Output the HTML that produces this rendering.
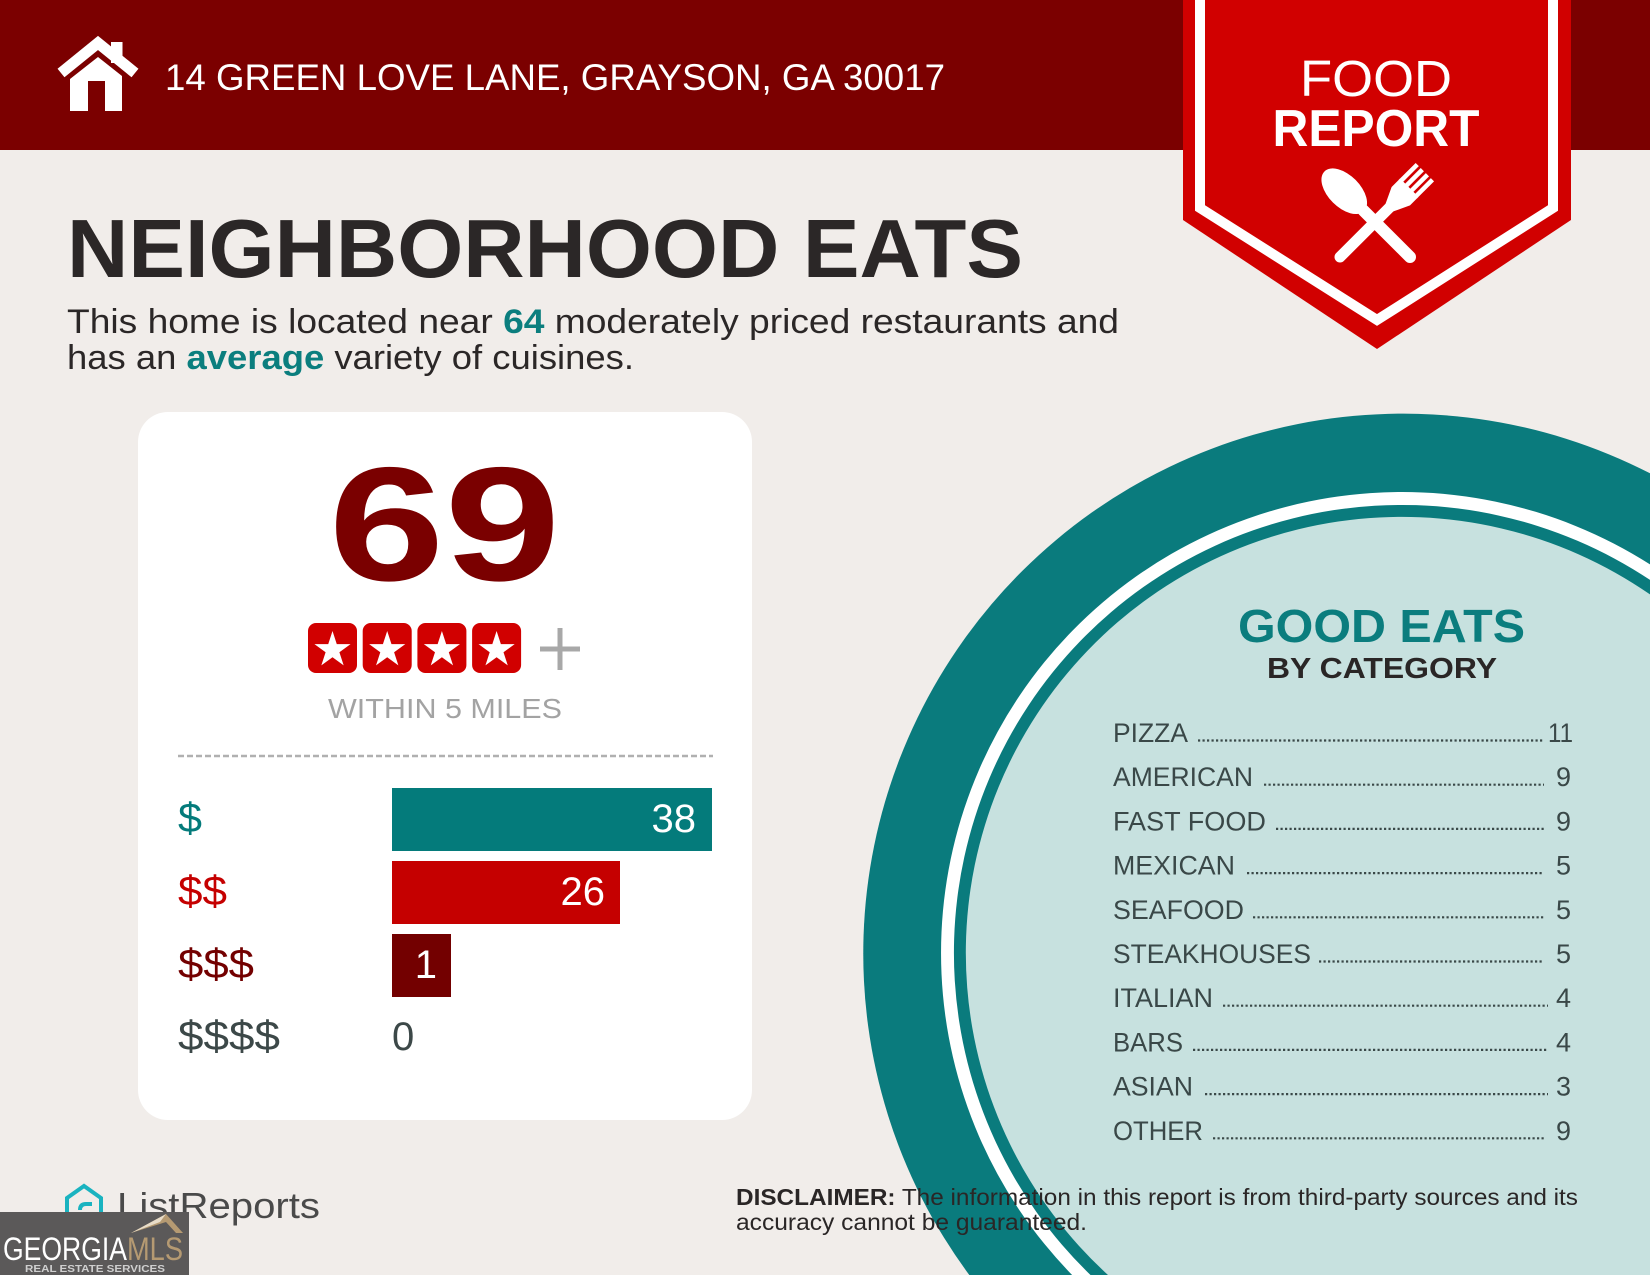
<!DOCTYPE html>
<html>
<head>
<meta charset="utf-8">
<style>
  html,body{margin:0;padding:0;background:#f1edea;width:1650px;height:1275px;overflow:hidden;}
  svg{display:block;}
  text{font-family:"Liberation Sans", Arial, sans-serif;}
</style>
</head>
<body>
<svg width="1650" height="1275" viewBox="0 0 1650 1275" xmlns="http://www.w3.org/2000/svg">
  <defs>
    <g id="star">
      <polygon points="0,-19 4.27,-5.87 18.07,-5.87 6.9,2.24 11.17,15.37 0,7.26 -11.17,15.37 -6.9,2.24 -18.07,-5.87 -4.27,-5.87" fill="#ffffff"/>
    </g>
  </defs>

  <rect x="0" y="0" width="1650" height="1275" fill="#f1edea"/>

  <!-- header band -->
  <rect x="0" y="0" width="1650" height="150" fill="#7b0000"/>

  <!-- house icon -->
  <polyline points="61,73 98,43 135,73" fill="none" stroke="#ffffff" stroke-width="11" stroke-linejoin="miter"/>
  <rect x="111" y="42" width="11.5" height="21" fill="#ffffff"/>
  <path d="M70,111 L70,79 L98,57 L122,76 L122,111 Z M88,111 L88,81 L105,81 L105,111 Z" fill="#ffffff" fill-rule="evenodd"/>

  <text x="165" y="90" font-size="37" fill="#ffffff" textLength="780" lengthAdjust="spacingAndGlyphs">14 GREEN LOVE LANE, GRAYSON, GA 30017</text>

  <!-- food report banner -->
  <polygon points="1183,0 1571,0 1571,220 1377,349 1183,220" fill="#d10000"/>
  <polyline points="1200,0 1200,208 1377,320 1553,208 1553,0" fill="none" stroke="#ffffff" stroke-width="10" stroke-linejoin="miter"/>
  <text x="1376" y="96" font-size="51" fill="#ffffff" text-anchor="middle" textLength="152" lengthAdjust="spacingAndGlyphs">FOOD</text>
  <text x="1376" y="146" font-size="52" font-weight="bold" fill="#ffffff" text-anchor="middle" textLength="207" lengthAdjust="spacingAndGlyphs">REPORT</text>

  <!-- fork -->
  <g transform="translate(1340,257) rotate(45)" fill="#ffffff">
    <line x1="0" y1="0" x2="0" y2="-72" stroke="#ffffff" stroke-width="11" stroke-linecap="round"/>
    <polygon points="-5.5,-70 5.5,-70 13,-86 13,-98 -13,-98 -13,-86"/>
    <rect x="-13" y="-120" width="4.5" height="24"/>
    <rect x="-5.8" y="-120" width="4.5" height="24"/>
    <rect x="1.4" y="-120" width="4.5" height="24"/>
    <rect x="8.5" y="-120" width="4.5" height="24"/>
  </g>
  <!-- spoon -->
  <g transform="translate(1410,257) rotate(-45)" fill="#ffffff">
    <line x1="0" y1="0" x2="0" y2="-66" stroke="#ffffff" stroke-width="12" stroke-linecap="round"/>
    <ellipse cx="0" cy="-93" rx="16" ry="28"/>
  </g>

  <!-- title -->
  <text x="67" y="277" font-size="83" font-weight="bold" fill="#2b2727" textLength="956" lengthAdjust="spacingAndGlyphs">NEIGHBORHOOD EATS</text>

  <!-- paragraph -->
  <text x="67" y="333" font-size="34" fill="#2b2727" textLength="1052" lengthAdjust="spacingAndGlyphs">This home is located near <tspan font-weight="bold" fill="#0b7e7e">64</tspan> moderately priced restaurants and</text>
  <text x="67" y="369" font-size="34" fill="#2b2727" textLength="567" lengthAdjust="spacingAndGlyphs">has an <tspan font-weight="bold" fill="#0b7e7e">average</tspan> variety of cuisines.</text>

  <!-- card -->
  <rect x="138" y="412" width="614" height="708" rx="30" ry="30" fill="#ffffff"/>

  <text x="444.5" y="580" font-size="162" font-weight="bold" fill="#7a0000" text-anchor="middle" textLength="232" lengthAdjust="spacingAndGlyphs">69</text>

  <!-- stars -->
  <rect x="308" y="623" width="49" height="50" rx="8" fill="#d10000"/>
  <rect x="362.7" y="623" width="49" height="50" rx="8" fill="#d10000"/>
  <rect x="417.4" y="623" width="49" height="50" rx="8" fill="#d10000"/>
  <rect x="472.1" y="623" width="49" height="50" rx="8" fill="#d10000"/>
  <use href="#star" transform="translate(332.5,650)"/>
  <use href="#star" transform="translate(387.2,650)"/>
  <use href="#star" transform="translate(441.9,650)"/>
  <use href="#star" transform="translate(496.6,650)"/>
  <line x1="540" y1="649" x2="580" y2="649" stroke="#a8a8a8" stroke-width="5"/>
  <line x1="560" y1="628" x2="560" y2="670" stroke="#a8a8a8" stroke-width="5"/>

  <text x="445" y="718" font-size="28" fill="#a3a3a3" text-anchor="middle" textLength="234" lengthAdjust="spacingAndGlyphs">WITHIN 5 MILES</text>

  <line x1="178" y1="756" x2="713" y2="756" stroke="#b0b0b0" stroke-width="2.5" stroke-dasharray="6 3"/>

  <!-- bars -->
  <rect x="392" y="788" width="320" height="63" fill="#047b7b"/>
  <rect x="392" y="861" width="228" height="63" fill="#c50000"/>
  <rect x="392" y="934" width="59" height="63" fill="#730000"/>

  <text x="696" y="832" font-size="40" fill="#ffffff" text-anchor="end">38</text>
  <text x="605" y="905" font-size="40" fill="#ffffff" text-anchor="end">26</text>
  <text x="437" y="978" font-size="40" fill="#ffffff" text-anchor="end">1</text>
  <text x="392" y="1050" font-size="40" fill="#3c4848">0</text>

  <text x="178" y="832" font-size="42" fill="#047b7b" textLength="24" lengthAdjust="spacingAndGlyphs">$</text>
  <text x="178" y="905" font-size="42" fill="#c50000" textLength="49" lengthAdjust="spacingAndGlyphs">$$</text>
  <text x="178" y="978" font-size="42" fill="#730000" textLength="76" lengthAdjust="spacingAndGlyphs">$$$</text>
  <text x="178" y="1050" font-size="42" fill="#3c4848" textLength="102" lengthAdjust="spacingAndGlyphs">$$$$</text>

  <!-- circle (clipped to frame) -->
  <path d="M1650,473.3 A540,540 0 0 0 969.3,1275 L1650,1275 Z" fill="#0a7b7d"/>
  <path d="M1650,564.4 A461,461 0 0 0 1072.1,1275 L1650,1275 Z" fill="#ffffff"/>
  <path d="M1650,579.9 A448,448 0 0 0 1090.5,1275 L1650,1275 Z" fill="#0a7b7d"/>
  <path d="M1650,594.4 A436,436 0 0 0 1108,1275 L1650,1275 Z" fill="#c7e1df"/>

  <text x="1381.5" y="642" font-size="46" font-weight="bold" fill="#0b7d7e" text-anchor="middle" textLength="287" lengthAdjust="spacingAndGlyphs">GOOD EATS</text>
  <text x="1382" y="678" font-size="29" font-weight="bold" fill="#2a2626" text-anchor="middle" textLength="230" lengthAdjust="spacingAndGlyphs">BY CATEGORY</text>

  <!-- list -->
  <g font-size="27" fill="#3a4848">
    <text x="1113" y="742" textLength="75" lengthAdjust="spacingAndGlyphs">PIZZA</text>
    <text x="1113" y="786.2" textLength="140" lengthAdjust="spacingAndGlyphs">AMERICAN</text>
    <text x="1113" y="830.4" textLength="153" lengthAdjust="spacingAndGlyphs">FAST FOOD</text>
    <text x="1113" y="874.6" textLength="122" lengthAdjust="spacingAndGlyphs">MEXICAN</text>
    <text x="1113" y="918.8" textLength="131" lengthAdjust="spacingAndGlyphs">SEAFOOD</text>
    <text x="1113" y="963" textLength="198" lengthAdjust="spacingAndGlyphs">STEAKHOUSES</text>
    <text x="1113" y="1007.2" textLength="100" lengthAdjust="spacingAndGlyphs">ITALIAN</text>
    <text x="1113" y="1051.4" textLength="70" lengthAdjust="spacingAndGlyphs">BARS</text>
    <text x="1113" y="1095.6" textLength="80" lengthAdjust="spacingAndGlyphs">ASIAN</text>
    <text x="1113" y="1139.8" textLength="90" lengthAdjust="spacingAndGlyphs">OTHER</text>
  </g>
  <text x="1548" y="742" font-size="27" fill="#3a4848" textLength="25" lengthAdjust="spacingAndGlyphs">11</text>
  <g font-size="27" fill="#3a4848" text-anchor="end">
    <text x="1571" y="786.2">9</text>
    <text x="1571" y="830.4">9</text>
    <text x="1571" y="874.6">5</text>
    <text x="1571" y="918.8">5</text>
    <text x="1571" y="963">5</text>
    <text x="1571" y="1007.2">4</text>
    <text x="1571" y="1051.4">4</text>
    <text x="1571" y="1095.6">3</text>
    <text x="1571" y="1139.8">9</text>
  </g>
  <g stroke="#3a4848" stroke-width="2.2" stroke-dasharray="2.2 2.3">
    <line x1="1198" y1="740.5" x2="1544" y2="740.5"/>
    <line x1="1264" y1="784.7" x2="1544" y2="784.7"/>
    <line x1="1276" y1="828.9" x2="1544" y2="828.9"/>
    <line x1="1247" y1="873.1" x2="1544" y2="873.1"/>
    <line x1="1253" y1="917.3" x2="1544" y2="917.3"/>
    <line x1="1319" y1="961.5" x2="1544" y2="961.5"/>
    <line x1="1223" y1="1005.7" x2="1548" y2="1005.7"/>
    <line x1="1193" y1="1049.9" x2="1548" y2="1049.9"/>
    <line x1="1205" y1="1094.1" x2="1548" y2="1094.1"/>
    <line x1="1213" y1="1138.3" x2="1544" y2="1138.3"/>
  </g>

  <!-- disclaimer -->
  <text x="736" y="1205" font-size="23" fill="#2a2626" textLength="842" lengthAdjust="spacingAndGlyphs"><tspan font-weight="bold">DISCLAIMER:</tspan> The information in this report is from third-party sources and its</text>
  <text x="736" y="1230" font-size="23" fill="#2a2626" textLength="351" lengthAdjust="spacingAndGlyphs">accuracy cannot be guaranteed.</text>

  <!-- ListReports logo -->
  <path d="M67,1198 L84,1186 L101,1198 L101,1216 Q101,1221 96,1221 L72,1221 Q67,1221 67,1216 Z" fill="none" stroke="#1ab3c0" stroke-width="4"/>
  <path d="M80,1210 Q80,1204 86,1204 L92,1204" fill="none" stroke="#1ab3c0" stroke-width="4"/>
  <text x="117" y="1218" font-size="36" fill="#4a4a4a" textLength="203" lengthAdjust="spacingAndGlyphs">ListReports</text>

  <!-- Georgia MLS -->
  <rect x="0" y="1212" width="189" height="63" fill="#5b5959"/>
  <polygon points="131,1233 166,1214 183,1233 176,1233 166,1222" fill="#b59a72"/>
  <polygon points="131,1233 166,1214 160,1222" fill="#e8dcc8"/>
  <text x="3" y="1260" font-size="32" fill="#ffffff" textLength="124" lengthAdjust="spacingAndGlyphs">GEORGIA</text>
  <text x="127" y="1260" font-size="32" fill="#b59a72" textLength="56" lengthAdjust="spacingAndGlyphs">MLS</text>
  <text x="25" y="1272" font-size="10" font-weight="bold" fill="#cfcfcf" textLength="140" lengthAdjust="spacingAndGlyphs">REAL ESTATE SERVICES</text>
</svg>
</body>
</html>
